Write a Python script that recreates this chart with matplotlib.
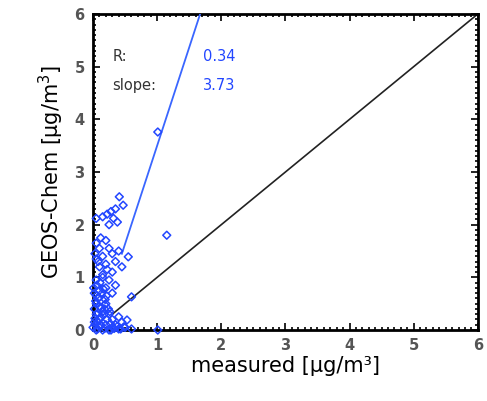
import numpy as np
import matplotlib
matplotlib.use("Agg")
import matplotlib.pyplot as plt
from matplotlib.ticker import MultipleLocator

# measured vs modelled concentrations
MEASURED = [
    1.01, 1.15,
    0.41, 0.47, 0.35, 0.28, 0.22, 0.15, 0.32, 0.05, 0.38, 0.25,
    0.12, 0.05, 0.20, 0.10, 0.25, 0.30, 0.15, 0.05, 0.40, 0.35, 0.55, 0.20, 0.45, 0.10, 0.30,
    0.15, 0.25, 0.05, 0.35, 0.20, 0.10, 0.30, 0.60, 0.05,
    0.05, 0.10, 0.20, 0.15, 0.25, 0.05, 0.30, 0.10, 0.02, 0.20, 0.35, 0.40, 0.45, 0.53,
    0.50, 0.10, 0.00, 0.05, 0.15, 0.25, 0.30, 1.01, 0.60, 0.40, 0.08, 0.18, 0.12, 0.02,
    0.03, 0.07, 0.12, 0.17, 0.22, 0.27, 0.04, 0.09, 0.14, 0.19, 0.24, 0.01, 0.06, 0.11,
    0.16, 0.21, 0.03, 0.08, 0.13, 0.18, 0.02, 0.07, 0.12, 0.28, 0.33, 0.38, 0.43, 0.48,
    0.15, 0.22, 0.08, 0.03, 0.26, 0.18,
]
GEOS_CHEM = [
    3.76, 1.80,
    2.53, 2.37, 2.30, 2.25, 2.20, 2.15, 2.12, 2.12, 2.05, 2.00,
    1.75, 1.65, 1.70, 1.55, 1.55, 1.45, 1.40, 1.35, 1.50, 1.30, 1.39, 1.25, 1.20, 1.20, 1.10,
    1.00, 0.95, 0.95, 0.85, 0.80, 0.75, 0.70, 0.63, 0.65,
    0.50, 0.45, 0.50, 0.35, 0.30, 0.30, 0.20, 0.20, 0.15, 0.10, 0.10, 0.25, 0.15, 0.19,
    0.05, 0.05, 0.05, 0.00, 0.00, 0.00, 0.05, 0.00, 0.02, 0.02, 0.60, 0.40, 0.10, 0.40,
    0.10, 0.15, 0.25, 0.30, 0.20, 0.12, 0.55, 0.62, 0.70, 0.58, 0.40, 0.80, 0.85, 0.90,
    0.78, 0.65, 0.22, 0.32, 0.42, 0.48, 0.70, 0.02, 0.08, 0.00, 0.03, 0.07, 0.02, 0.06,
    1.05, 1.15, 1.30, 1.45, 0.35, 0.03,
]

R_VALUE = 0.34
SLOPE = 3.73
INTERCEPT = -0.23
FIT_X = [0.45, 1.75]
ONE_TO_ONE = [0.3, 6.0]

BLUE = "#2246ff"

fig = plt.figure(figsize=(4.87, 4.01), dpi=100)
ax = fig.add_axes([0.191, 0.177, 0.790, 0.788])

ax.plot(ONE_TO_ONE, ONE_TO_ONE, color="#222222", lw=1.2, zorder=2)
fit_y = [SLOPE * x + INTERCEPT for x in FIT_X]
ax.plot(FIT_X, fit_y, color="#3a66ff", lw=1.3, zorder=3)
ax.scatter(MEASURED, GEOS_CHEM, marker="D", s=16, facecolors="none",
           edgecolors=BLUE, linewidths=1.1, zorder=4, clip_on=False)

ax.text(0.3, 5.2, "R:", fontsize=10.5, color="#333333", va="center")
ax.text(0.3, 4.65, "slope:", fontsize=10.5, color="#333333", va="center")
ax.text(1.72, 5.2, f"{R_VALUE:.2f}", fontsize=10.5, color=BLUE, va="center")
ax.text(1.72, 4.65, f"{SLOPE:.2f}", fontsize=10.5, color=BLUE, va="center")

ax.set_xlim(0, 6)
ax.set_ylim(0, 6)
ax.xaxis.set_major_locator(MultipleLocator(1))
ax.yaxis.set_major_locator(MultipleLocator(1))
ax.xaxis.set_minor_locator(MultipleLocator(0.1))
ax.yaxis.set_minor_locator(MultipleLocator(0.1))
ax.tick_params(which="both", direction="in", top=True, right=True,
               labelsize=10.5, labelcolor="#555555", width=1.2)
ax.tick_params(which="major", length=5, pad=6)
ax.tick_params(which="minor", length=2.5)
for lab in ax.get_xticklabels() + ax.get_yticklabels():
    lab.set_fontweight("bold")
for s in ax.spines.values():
    s.set_linewidth(2.0)

ax.set_xlabel("measured [µg/m³]", fontsize=15, labelpad=2)
ax.set_ylabel("GEOS-Chem [µg/m$^3$]", fontsize=15, labelpad=6)

fig.savefig("out.png", dpi=100)
